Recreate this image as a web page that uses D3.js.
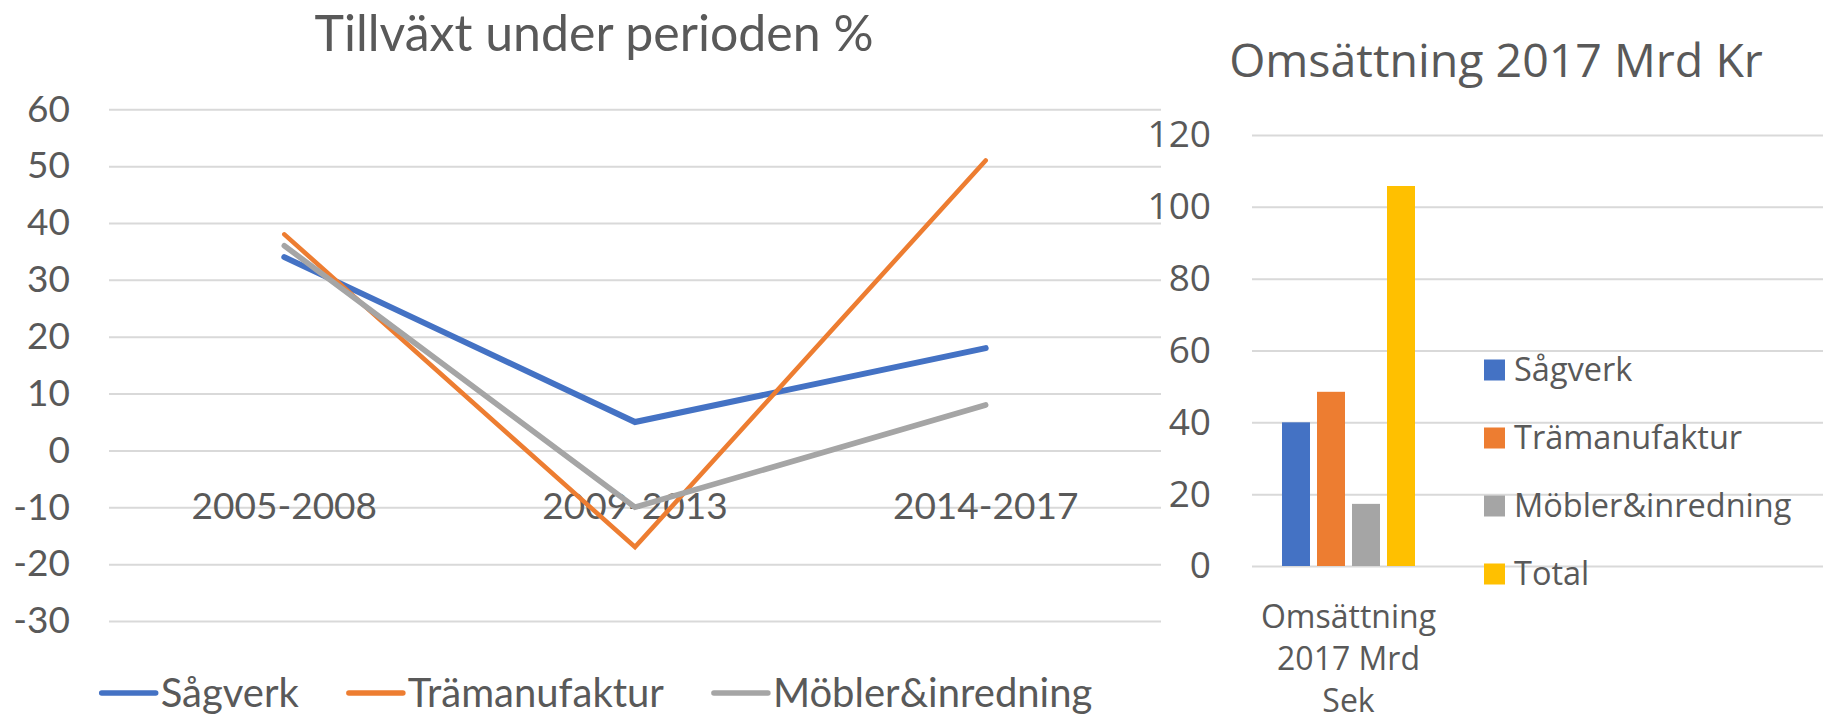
<!DOCTYPE html>
<html>
<head>
<meta charset="utf-8">
<script src="https://cdn.jsdelivr.net/npm/d3@7"></script>
<style>
  body { margin: 0; background: #fff; }
  svg { display: block; }
  .grid line { stroke: #d9d9d9; stroke-width: 2; }
</style>
</head>
<body>
<svg width="1823" height="717"></svg>
<script>
// growth chart data
var periods = ['2005-2008', '2009-2013', '2014-2017'],
    seriesNames = ['Sågverk', 'Trämanufaktur', 'Möbler&inredning'],
    sagverk = [34, 5, 18],
    tramanufaktur = [38, -17, 51],
    mobler = [36, -10, 8],
    growthTicks = [-30, -20, -10, 0, 10, 20, 30, 40, 50, 60];

// turnover chart data
var turnoverCategory = ['Omsättning 2017 Mrd Sek'],
    turnoverNames = ['Sågverk', 'Trämanufaktur', 'Möbler&inredning', 'Total'],
    turnoverValues = [40, 48.5, 17.3, 105.8],
    turnoverTicks = [0, 20, 40, 60, 80, 100, 120];

var colors = ['#4472c4', '#ed7d31', '#a5a5a5', '#ffc000'],
    lineWidths = [6, 4.6, 5.6],
    textColor = '#595959';

var svg = d3.select('svg');
svg.append('rect').attr('width', 1823).attr('height', 717).attr('fill', '#fff');

drawGrowth();
drawTurnover();

function plain(d) {
    // hyphen minus, as in the original, not d3's unicode minus
    return String(d);
}

function drawGrowth() {
    var left = 109, right = 1161, top = 109.3, bottom = 621,
        font = 'Lato, sans-serif';

    var x = d3.scaleBand().domain(periods).range([left, right]),
        y = d3.scaleLinear().domain([-30, 60]).range([bottom, top]);

    svg.append('text')
        .attr('x', 594).attr('y', 51)
        .attr('text-anchor', 'middle')
        .style('font-family', font).style('font-size', '50px')
        .attr('fill', textColor)
        .text('Tillväxt under perioden %');

    var yAxis = svg.append('g')
        .attr('class', 'grid')
        .attr('transform', 'translate(' + left + ',0)')
        .call(d3.axisLeft(y).tickValues(growthTicks).tickFormat(plain)
            .tickSize(-(right - left)).tickPadding(39));
    yAxis.select('.domain').remove();
    yAxis.selectAll('text')
        .style('font-family', font).style('font-size', '37px')
        .attr('fill', textColor);

    var xAxis = svg.append('g')
        .attr('transform', 'translate(0,' + y(0) + ')')
        .call(d3.axisBottom(x).tickSize(0));
    xAxis.select('.domain').remove();
    xAxis.selectAll('text')
        .attr('y', 56).attr('dy', '0.35em')
        .style('font-family', font).style('font-size', '37px')
        .attr('fill', textColor);

    var line = d3.line()
        .x(function(d, i) { return x(periods[i]) + x.bandwidth() / 2; })
        .y(function(d) { return y(d); });

    var series = [sagverk, tramanufaktur, mobler];
    for (var i = 0; i < series.length; i++) {
        svg.append('path')
            .attr('d', line(series[i]))
            .attr('fill', 'none')
            .attr('stroke', colors[i])
            .attr('stroke-width', lineWidths[i])
            .attr('stroke-linecap', 'round')
            .attr('stroke-linejoin', 'miter');
    }

    // legend, laid out from the text widths and centred
    var legend = svg.append('g'),
        lineLen = 54, gap = 5, itemGap = 50, ly = 693,
        items = [], total = 0;
    for (var j = 0; j < seriesNames.length; j++) {
        var g = legend.append('g');
        g.append('line')
            .attr('x1', 0).attr('x2', lineLen)
            .attr('y1', ly).attr('y2', ly)
            .attr('stroke', colors[j]).attr('stroke-width', 5.5)
            .attr('stroke-linecap', 'round');
        var t = g.append('text')
            .attr('x', lineLen + gap).attr('y', ly).attr('dy', '0.35em')
            .style('font-family', font).style('font-size', '40px')
            .attr('fill', textColor)
            .text(seriesNames[j]);
        var w = lineLen + gap + t.node().getComputedTextLength();
        items.push({ g: g, w: w });
        total += w + (j > 0 ? itemGap : 0);
    }
    var pos = 597 - total / 2;
    for (var k = 0; k < items.length; k++) {
        items[k].g.attr('transform', 'translate(' + pos + ',0)');
        pos += items[k].w + itemGap;
    }
}

function drawTurnover() {
    var left = 1252, right = 1823, top = 135, bottom = 566,
        font = '"Open Sans", sans-serif';

    var x = d3.scaleBand().domain(turnoverCategory).range([left, 1445]),
        inner = d3.scaleBand().domain(turnoverNames).range([30, 163]).paddingInner(0.2),
        y = d3.scaleLinear().domain([0, 120]).range([bottom, top]);

    svg.append('text')
        .attr('x', 1496).attr('y', 77)
        .attr('text-anchor', 'middle')
        .style('font-family', font).style('font-size', '46.5px')
        .attr('fill', textColor)
        .text('Omsättning 2017 Mrd Kr');

    var yAxis = svg.append('g')
        .attr('class', 'grid')
        .attr('transform', 'translate(' + left + ',0)')
        .call(d3.axisLeft(y).tickValues(turnoverTicks).tickFormat(plain)
            .tickSize(-(right - left)).tickPadding(41));
    yAxis.select('.domain').remove();
    yAxis.selectAll('text')
        .style('font-family', font).style('font-size', '37px')
        .attr('fill', textColor);

    svg.append('g')
        .selectAll('rect')
        .data(turnoverValues)
        .enter().append('rect')
        .attr('x', function(d, i) { return x(turnoverCategory[0]) + inner(turnoverNames[i]); })
        .attr('y', function(d) { return y(d); })
        .attr('width', inner.bandwidth())
        .attr('height', function(d) { return y(0) - y(d); })
        .attr('fill', function(d, i) { return colors[i]; });

    var xAxis = svg.append('g')
        .attr('transform', 'translate(0,' + bottom + ')')
        .call(d3.axisBottom(x).tickSize(0).tickFormat(''));
    xAxis.select('.domain').remove();
    var label = xAxis.select('.tick').append('text')
        .attr('text-anchor', 'middle')
        .style('font-family', font).style('font-size', '32px')
        .attr('fill', textColor);
    var lines = ['Omsättning', '2017 Mrd', 'Sek'];
    label.selectAll('tspan')
        .data(lines)
        .enter().append('tspan')
        .attr('x', 0)
        .attr('y', function(d, i) { return 62 + i * 42; })
        .text(function(d) { return d; });

    var legend = svg.append('g')
        .selectAll('g')
        .data(turnoverNames)
        .enter().append('g')
        .attr('transform', function(d, i) { return 'translate(1484,' + (370 + i * 68) + ')'; });
    legend.append('rect')
        .attr('x', 0).attr('y', -10.5)
        .attr('width', 21).attr('height', 21)
        .attr('fill', function(d, i) { return colors[i]; });
    legend.append('text')
        .attr('x', 30).attr('dy', '0.35em')
        .style('font-family', font).style('font-size', '32.5px')
        .attr('fill', textColor)
        .text(function(d) { return d; });
}
</script>
</body>
</html>
